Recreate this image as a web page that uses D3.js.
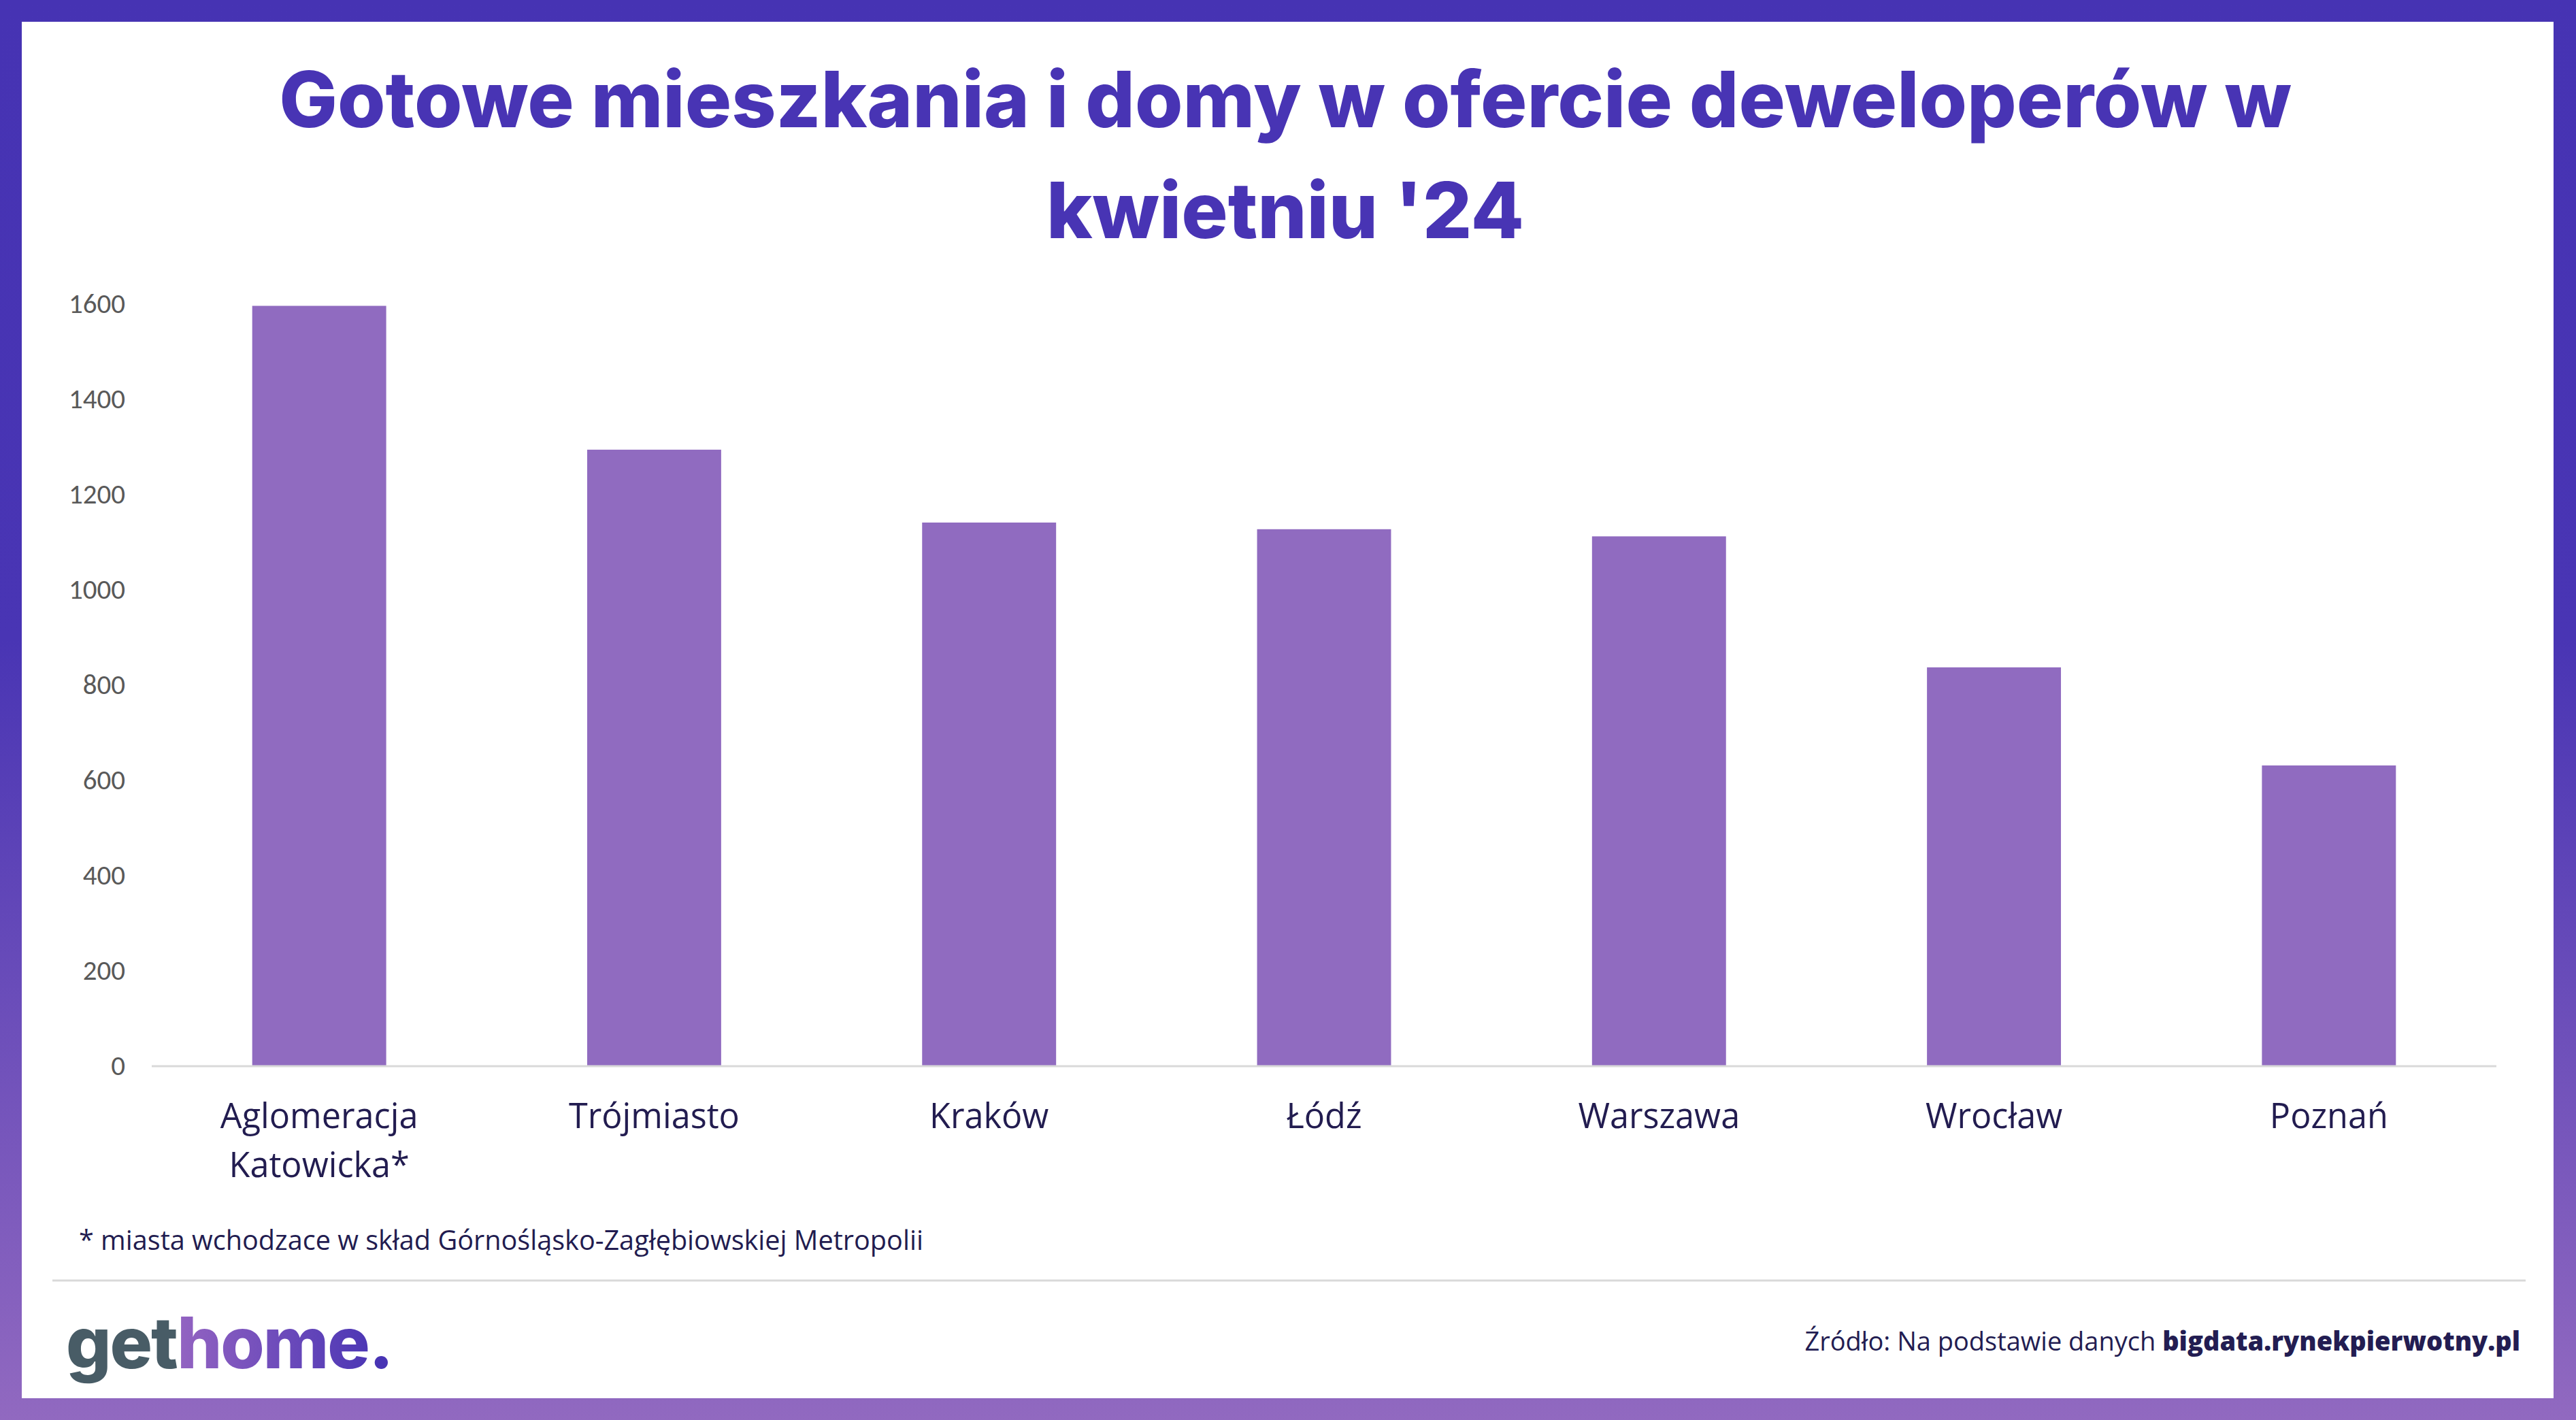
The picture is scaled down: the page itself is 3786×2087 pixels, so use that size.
<!DOCTYPE html>
<html>
<head>
<meta charset="utf-8">
<script src="https://cdn.jsdelivr.net/npm/d3@7"></script>
<style>
  html, body { margin: 0; padding: 0; background: #fff; }
  svg { display: block; }
</style>
</head>
<body>
<svg id="chart" width="3786" height="2087"></svg>
<script>
// ---- data ----
const categories = ["Aglomeracja\nKatowicka*", "Trójmiasto", "Kraków", "Łódź", "Warszawa", "Wrocław", "Poznań"];
const values = [1595, 1293, 1140, 1126, 1111, 836, 630];
const yTicks = [0, 200, 400, 600, 800, 1000, 1200, 1400, 1600];
const titleLines = ["Gotowe mieszkania i domy w ofercie deweloperów w", "kwietniu '24"];
const footnote = "* miasta wchodzace w skład Górnośląsko-Zagłębiowskiej Metropolii";
const sourceRegular = "Źródło: Na podstawie danych ";
const sourceBold = "bigdata.rynekpierwotny.pl";

// ---- layout ----
const W = 3786, H = 2087;
const svg = d3.select("#chart");
const defs = svg.append("defs");

const frameGrad = defs.append("linearGradient").attr("id", "frameGrad")
  .attr("x1", 0).attr("y1", 0).attr("x2", 0).attr("y2", 1);
frameGrad.append("stop").attr("offset", "0").attr("stop-color", "#4633b3");
frameGrad.append("stop").attr("offset", "0.45").attr("stop-color", "#4935b4");
frameGrad.append("stop").attr("offset", "1").attr("stop-color", "#9169c0");

svg.append("rect").attr("x", 0).attr("y", 0).attr("width", W).attr("height", H).attr("fill", "url(#frameGrad)");
svg.append("rect").attr("x", 32).attr("y", 32).attr("width", 3753 - 32).attr("height", 2055 - 32).attr("fill", "#ffffff");

function fitWidth(sel, target) {
  const w = sel.node().getBBox().width;
  const fs = parseFloat(sel.attr("font-size"));
  sel.attr("font-size", fs * target / w);
}

// ---- title ----
const titleFont = "Inter, 'Open Sans', Lato, sans-serif";
const t1 = svg.append("text").attr("x", 1889).attr("y", 187).attr("text-anchor", "middle")
  .attr("font-family", titleFont).attr("font-weight", 800).attr("font-size", 110)
  .attr("fill", "#4834b4").text(titleLines[0]);
fitWidth(t1, 2958);
const tfs = t1.attr("font-size");
svg.append("text").attr("x", 1889).attr("y", 350).attr("text-anchor", "middle")
  .attr("font-family", titleFont).attr("font-weight", 800).attr("font-size", tfs)
  .attr("fill", "#4834b4").text(titleLines[1]);

// ---- scales ----
const plotLeft = 223, plotRight = 3669;
const y = d3.scaleLinear().domain([0, 1600]).range([1566, 446]);
const x = d3.scaleBand().domain(categories).range([plotLeft, plotRight])
  .paddingInner(0.6).paddingOuter(0.3);

// y axis
const yAxis = d3.axisLeft(y).tickValues(yTicks).tickSize(0).tickPadding(39).tickFormat(d3.format("d"));
const gy = svg.append("g").attr("transform", `translate(${plotLeft},0)`).call(yAxis);
gy.select(".domain").remove();
gy.selectAll("text")
  .attr("font-family", "Carlito, Calibri, 'Liberation Sans Narrow', 'Open Sans', sans-serif")
  .attr("font-size", 41).attr("fill", "#595959");

// bars
svg.append("g").selectAll("rect").data(values).join("rect")
  .attr("x", (d, i) => x(categories[i]))
  .attr("width", x.bandwidth())
  .attr("y", d => y(d))
  .attr("height", d => y(0) - y(d))
  .attr("fill", "#906bc0");

// baseline
svg.append("line").attr("x1", plotLeft).attr("x2", plotRight)
  .attr("y1", y(0) + 1).attr("y2", y(0) + 1)
  .attr("stroke", "#d9d9d9").attr("stroke-width", 3);

// x labels
const labelFont = "'Open Sans', Inter, Lato, sans-serif";
const probe = svg.append("text").attr("font-family", labelFont).attr("font-size", 46).text("Trójmiasto");
fitWidth(probe, 251);
const lfs = probe.attr("font-size");
probe.remove();

const xl = svg.append("g").selectAll("text").data(categories).join("text")
  .attr("text-anchor", "middle")
  .attr("font-family", labelFont).attr("font-size", lfs)
  .attr("fill", "#221c50");
xl.each(function(d) {
  const lines = d.split("\n");
  const t = d3.select(this);
  lines.forEach((ln, j) => {
    t.append("tspan").attr("x", x(d) + x.bandwidth() / 2).attr("y", 1658 + j * 72).text(ln);
  });
});

// footnote
const fn = svg.append("text").attr("x", 116).attr("y", 1837)
  .attr("font-family", labelFont).attr("font-size", 36).attr("fill", "#221c50").text(footnote);
fitWidth(fn, 1241);

// separator
svg.append("line").attr("x1", 77).attr("x2", 3712).attr("y1", 1882).attr("y2", 1882)
  .attr("stroke", "#d9d9d9").attr("stroke-width", 3);

// source
const src = svg.append("text").attr("x", 3704).attr("y", 1985).attr("text-anchor", "end")
  .attr("font-family", labelFont).attr("font-size", 33).attr("fill", "#231d52");
src.append("tspan").text(sourceRegular);
src.append("tspan").attr("font-weight", 800).text(sourceBold);
fitWidth(src, 1052);

// logo
const logoGrad = defs.append("linearGradient").attr("id", "logoGrad")
  .attr("gradientUnits", "userSpaceOnUse").attr("x1", 250).attr("y1", 0).attr("x2", 560).attr("y2", 0);
logoGrad.append("stop").attr("offset", "0").attr("stop-color", "#9665c2");
logoGrad.append("stop").attr("offset", "1").attr("stop-color", "#4834b4");
const logo = svg.append("text").attr("x", 97).attr("y", 2011)
  .attr("font-family", "Inter, 'Open Sans', sans-serif").attr("font-weight", 800)
  .attr("font-size", 100).attr("letter-spacing", -2);
logo.append("tspan").attr("fill", "#485c66").text("get");
logo.append("tspan").attr("fill", "url(#logoGrad)").text("home");
logo.append("tspan").attr("fill", "#4834b4").text(".");
fitWidth(logo, 479);
</script>
</body>
</html>
